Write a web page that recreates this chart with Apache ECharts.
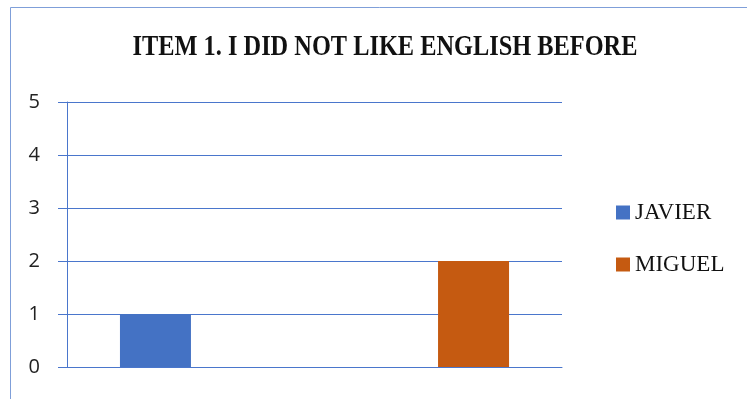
<!DOCTYPE html>
<html>
<head>
<meta charset="utf-8">
<script src="https://cdn.jsdelivr.net/npm/echarts@6/dist/echarts.min.js"></script>
<style>
  html, body { margin: 0; padding: 0; background: #fff; }
  #chart { width: 747px; height: 399px; }
</style>
</head>
<body>
<div id="chart"></div>
<script>
// datos
const categories = [''];
const seriesNames = ['JAVIER', 'MIGUEL'];
const javier = [1];
const miguel = [2];
const yTicks = [0, 1, 2, 3, 4, 5];
const titleText = 'ITEM 1. I DID NOT LIKE ENGLISH BEFORE';

const gridColor = '#4a76cc';

const chart = echarts.init(document.getElementById('chart'));

const option = {
  animation: false,
  graphic: [
    // marco de la figura
    {
      type: 'rect',
      shape: { x: 10.5, y: 7.5, width: 800, height: 500 },
      style: { fill: 'none', stroke: '#7f9fd9', lineWidth: 1 },
      silent: true,
    },
    // titulo (letra condensada)
    {
      type: 'text',
      x: 385,
      y: 48,
      scaleX: 0.84,
      style: {
        text: titleText,
        textAlign: 'center',
        textVerticalAlign: 'middle',
        fontFamily: 'Liberation Serif',
        fontWeight: 'bold',
        fontSize: 29,
        fill: '#111',
      },
      silent: true,
    },
  ],
  legend: {
    data: seriesNames,
    orient: 'vertical',
    left: 611,
    top: 196,
    icon: 'rect',
    itemWidth: 14,
    itemHeight: 14,
    itemGap: 29,
    textStyle: {
      fontFamily: 'Liberation Serif',
      fontSize: 23,
      color: '#111',
    },
  },
  grid: {
    left: 67,
    right: 185,
    top: 102,
    bottom: 32,
  },
  xAxis: {
    type: 'category',
    data: categories,
    axisLine: { show: true, lineStyle: { color: gridColor, width: 1 } },
    axisTick: { show: false },
    axisLabel: { show: false },
  },
  yAxis: {
    type: 'value',
    min: yTicks[0],
    max: yTicks[yTicks.length - 1],
    interval: 1,
    axisLine: { show: true, lineStyle: { color: gridColor, width: 1 } },
    axisTick: { show: true, length: 9, lineStyle: { color: gridColor, width: 1 } },
    axisLabel: {
      margin: 27,
      fontFamily: 'Open Sans',
      fontSize: 20,
      color: '#222',
    },
    splitLine: { show: true, lineStyle: { color: gridColor, width: 1 } },
  },
  series: [
    {
      name: seriesNames[0],
      type: 'bar',
      data: javier,
      barWidth: 71,
      barGap: '348%',
      itemStyle: { color: '#4472c4' },
    },
    {
      name: seriesNames[1],
      type: 'bar',
      data: miguel,
      barWidth: 71,
      barGap: '348%',
      itemStyle: { color: '#c55a11' },
    },
  ],
};

chart.setOption(option);
</script>
</body>
</html>
